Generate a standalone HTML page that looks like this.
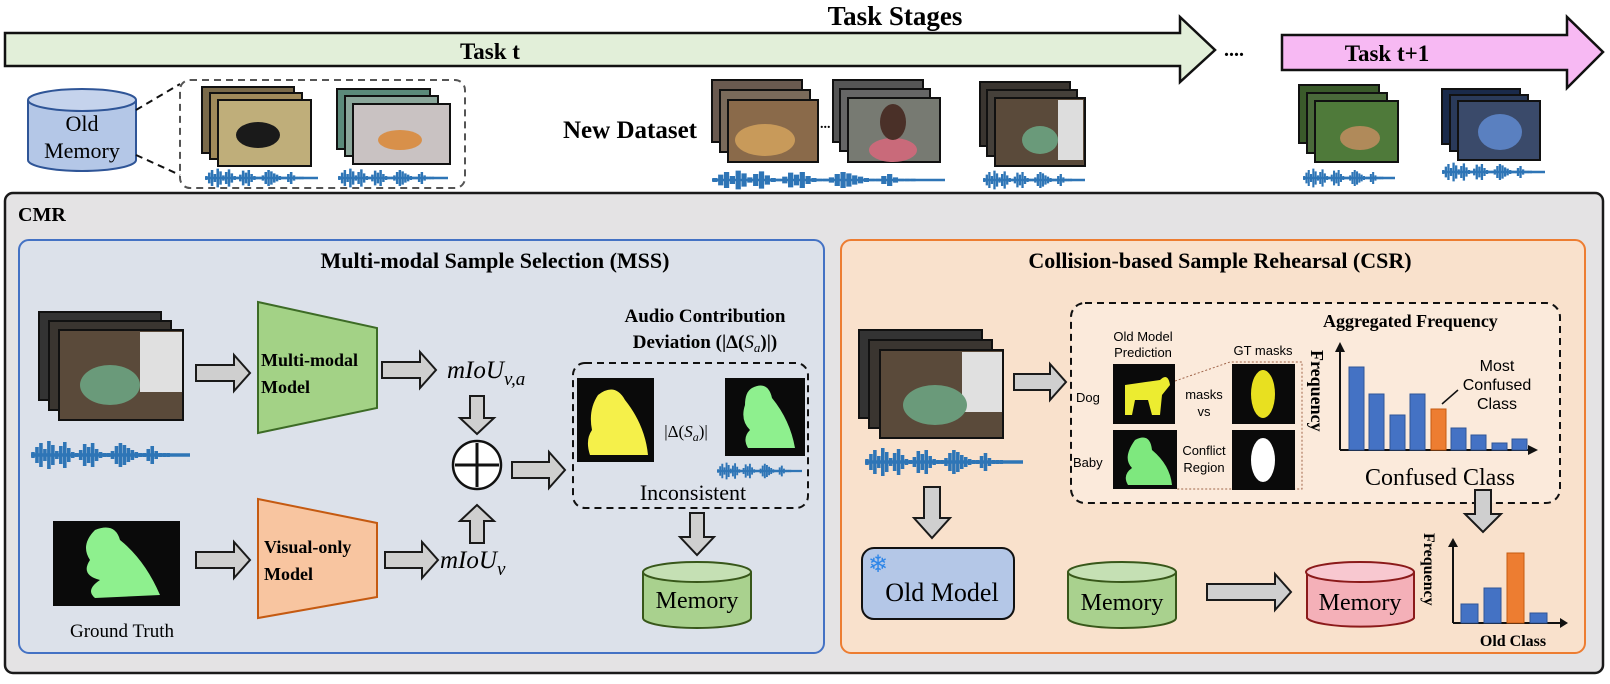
<!DOCTYPE html>
<html><head><meta charset="utf-8"><style>
html,body{margin:0;padding:0;background:#fff}
svg{display:block}
.s{font-family:"Liberation Serif",serif}
.a{font-family:"Liberation Sans",sans-serif}
.ar{fill:#cfcfcf;stroke:#1a1a1a;stroke-width:2}
</style></head><body>
<svg width="1610" height="684" viewBox="0 0 1610 684" xmlns="http://www.w3.org/2000/svg">
<defs>
<symbol id="wv" viewBox="0 0 160 30" preserveAspectRatio="none">
<path d="M0 15H160 M2 12V18 M6 7V23 M10 3V27 M14 9V21 M18 1V29 M22 5V25 M26 11V19 M30 6V24 M34 2V28 M38 8V22 M42 12V18 M46 13V17 M50 10V20 M54 4V26 M58 7V23 M62 3V27 M66 9V21 M70 12V18 M74 13V17 M78 13V17 M82 11V19 M86 6V24 M90 3V27 M94 5V25 M98 8V22 M102 10V20 M106 12V18 M110 13V17 M114 13V17 M118 9V21 M122 6V24 M126 11V19 M130 13V17 M134 13V17 M138 13V17 M142 14V16 M146 14V16 M150 14V16" stroke="#2e75b6" stroke-width="3.6" fill="none"/>
</symbol>
</defs>

<!-- Top -->
<text x="895" y="25" class="s" font-size="27" font-weight="bold" text-anchor="middle">Task Stages</text>
<polygon points="5,33 1180,33 1180,17 1215,50 1180,82 1180,66 5,66" fill="#e2efd9" stroke="#111" stroke-width="2.5"/>
<text x="490" y="59" class="s" font-size="23" font-weight="bold" text-anchor="middle">Task t</text>
<text x="1224" y="56" class="s" font-size="20" font-weight="bold">....</text>
<polygon points="1282,35 1567,35 1567,17 1603,52 1567,88 1567,70 1282,70" fill="#f7b9f3" stroke="#111" stroke-width="2.5"/>
<text x="1387" y="61" class="s" font-size="23" font-weight="bold" text-anchor="middle">Task t+1</text>

<!-- Old memory -->
<path d="M28,100 V160 A54,11 0 0 0 136,160 V100" fill="#b4c7e7" stroke="#2f5597" stroke-width="2"/>
<ellipse cx="82" cy="100" rx="54" ry="11" fill="#c5d3ec" stroke="#2f5597" stroke-width="2"/>
<text x="82" y="131" class="s" font-size="22" text-anchor="middle">Old</text>
<text x="82" y="158" class="s" font-size="22" text-anchor="middle">Memory</text>
<path d="M136,110 L180,84 M136,155 L180,175" stroke="#111" stroke-width="2" stroke-dasharray="7,5"/>
<rect x="180" y="80" width="285" height="108" rx="10" fill="none" stroke="#555" stroke-width="2" stroke-dasharray="7,5"/>

<rect x="202" y="87" width="92" height="66" fill="#7a6a4a" stroke="#111" stroke-width="2"/>
<rect x="210" y="93" width="92" height="66" fill="#a08a5a" stroke="#111" stroke-width="2"/>
<rect x="218" y="100" width="93" height="66" fill="#bfae7a" stroke="#111" stroke-width="2"/>
<ellipse cx="258" cy="135" rx="22" ry="13" fill="#1a1a1a"/>
<use href="#wv" x="205" y="168" width="113" height="20"/>
<rect x="337" y="89" width="93" height="60" fill="#5b8a7a" stroke="#111" stroke-width="2"/>
<rect x="345" y="96" width="93" height="60" fill="#8aa69a" stroke="#111" stroke-width="2"/>
<rect x="353" y="104" width="97" height="60" fill="#c9c2c2" stroke="#111" stroke-width="2"/>
<ellipse cx="400" cy="140" rx="22" ry="10" fill="#d8904a"/>
<use href="#wv" x="338" y="168" width="110" height="20"/>

<text x="563" y="138" class="s" font-size="25" font-weight="bold">New Dataset</text>
<rect x="712" y="80" width="90" height="62" fill="#6a5a50" stroke="#111" stroke-width="2"/>
<rect x="720" y="90" width="90" height="62" fill="#7a6a5a" stroke="#111" stroke-width="2"/>
<rect x="728" y="100" width="90" height="62" fill="#8a6a4a" stroke="#111" stroke-width="2"/>
<ellipse cx="765" cy="140" rx="30" ry="16" fill="#c89a5a"/>
<text x="820" y="128" font-size="14" font-weight="bold" class="s">...</text>
<rect x="833" y="80" width="90" height="62" fill="#555" stroke="#111" stroke-width="2"/>
<rect x="840" y="89" width="90" height="62" fill="#666" stroke="#111" stroke-width="2"/>
<rect x="848" y="98" width="92" height="64" fill="#777a72" stroke="#111" stroke-width="2"/>
<ellipse cx="893" cy="150" rx="24" ry="12" fill="#c96a7a"/>
<ellipse cx="893" cy="122" rx="13" ry="18" fill="#4a3028"/>
<use href="#wv" x="712" y="170" width="233" height="20"/>
<rect x="980" y="82" width="90" height="64" fill="#3a3530" stroke="#111" stroke-width="2"/>
<rect x="987" y="90" width="90" height="66" fill="#45403a" stroke="#111" stroke-width="2"/>
<rect x="995" y="98" width="90" height="68" fill="#5a4a3a" stroke="#111" stroke-width="2"/>
<rect x="1058" y="100" width="25" height="60" fill="#ddd"/>
<ellipse cx="1040" cy="140" rx="18" ry="14" fill="#6a9a7a"/>
<use href="#wv" x="983" y="170" width="102" height="20"/>

<rect x="1299" y="85" width="80" height="58" fill="#3a5a2a" stroke="#111" stroke-width="2"/>
<rect x="1307" y="93" width="80" height="60" fill="#4a6a3a" stroke="#111" stroke-width="2"/>
<rect x="1315" y="101" width="83" height="61" fill="#4f7a3a" stroke="#111" stroke-width="2"/>
<ellipse cx="1360" cy="138" rx="20" ry="12" fill="#b08a5a"/>
<use href="#wv" x="1303" y="168" width="92" height="20"/>
<rect x="1442" y="89" width="78" height="55" fill="#1a2a4a" stroke="#111" stroke-width="2"/>
<rect x="1450" y="95" width="78" height="56" fill="#2a3a5a" stroke="#111" stroke-width="2"/>
<rect x="1458" y="101" width="82" height="59" fill="#3a4a6a" stroke="#111" stroke-width="2"/>
<ellipse cx="1500" cy="132" rx="22" ry="18" fill="#5a80c0"/>
<use href="#wv" x="1442" y="162" width="103" height="20"/>

<!-- CMR -->
<rect x="5" y="193" width="1598" height="480" rx="8" fill="#e4e3e4" stroke="#1a1a1a" stroke-width="2.5"/>
<text x="18" y="221" class="s" font-size="20" font-weight="bold">CMR</text>

<!-- MSS -->
<rect x="19" y="240" width="805" height="413" rx="10" fill="#dce1ea" stroke="#4472c4" stroke-width="2"/>
<text x="495" y="268" class="s" font-size="22" font-weight="bold" text-anchor="middle">Multi-modal Sample Selection (MSS)</text>
<rect x="39" y="312" width="122" height="88" fill="#333" stroke="#111" stroke-width="2"/>
<rect x="49" y="321" width="122" height="89" fill="#3a3530" stroke="#111" stroke-width="2"/>
<rect x="59" y="330" width="124" height="90" fill="#5a4a3a" stroke="#111" stroke-width="2"/>
<rect x="140" y="332" width="42" height="60" fill="#e0e0e0"/>
<ellipse cx="110" cy="385" rx="30" ry="20" fill="#6a9a7a"/>
<use href="#wv" x="31" y="440" width="159" height="30"/>
<polygon class="ar" points="196,365 234,365 234,355 250,373 234,391 234,381 196,381"/>
<polygon points="258,302 377,328 377,408 258,433" fill="#a3d286" stroke="#3d6b26" stroke-width="2"/>
<text x="261" y="366" class="s" font-size="18" font-weight="bold">Multi-modal</text>
<text x="261" y="393" class="s" font-size="18" font-weight="bold">Model</text>
<polygon class="ar" points="382,362 420,362 420,352 436,370 420,388 420,378 382,378"/>
<text x="447" y="378" class="s" font-size="25" font-style="italic">mIoU<tspan font-size="19" dy="7">v,a</tspan></text>
<polygon class="ar" points="470,396 484,396 484,418 494,418 477,434 460,418 470,418"/>
<circle cx="477" cy="465" r="24" fill="#fff" stroke="#111" stroke-width="2.5"/>
<path d="M455,465 H499 M477,443 V487" stroke="#111" stroke-width="3"/>
<polygon class="ar" points="470,543 484,543 484,521 494,521 477,505 460,521 470,521"/>
<polygon class="ar" points="512,462 549,462 549,452 565,470 549,488 549,478 512,478"/>
<text x="705" y="322" class="s" font-size="19" font-weight="bold" text-anchor="middle">Audio Contribution</text>
<text x="705" y="348" class="s" font-size="19" font-weight="bold" text-anchor="middle">Deviation (|Δ(<tspan font-style="italic" font-weight="normal">S</tspan><tspan font-size="13" dy="4" font-style="italic" font-weight="normal">a</tspan><tspan dy="-4">)|)</tspan></text>
<rect x="573" y="363" width="235" height="145" rx="12" fill="none" stroke="#111" stroke-width="2" stroke-dasharray="7,5"/>
<rect x="577" y="378" width="77" height="84" fill="#0a0a0a"/>
<path d="M598,395 Q615,382 625,400 Q645,425 648,455 L590,455 Q585,440 592,430 Q588,410 598,395Z" fill="#f5f04a"/>
<text x="686" y="437" class="s" font-size="17" text-anchor="middle">|Δ(<tspan font-style="italic">S</tspan><tspan font-size="12" dy="4" font-style="italic">a</tspan><tspan dy="-4">)|</tspan></text>
<rect x="725" y="378" width="80" height="78" fill="#0a0a0a"/>
<path d="M752,388 Q768,380 772,398 Q790,420 795,448 L748,448 Q742,438 750,430 Q740,420 745,405 Q745,392 752,388Z" fill="#8ef08e"/>
<use href="#wv" x="717" y="462" width="85" height="18"/>
<text x="693" y="500" class="s" font-size="22" text-anchor="middle">Inconsistent</text>
<polygon class="ar" points="690,513 704,513 704,537 714,537 697,555 680,537 690,537"/>
<path d="M643,572 V618 A54,10 0 0 0 751,618 V572" fill="#a9d18e" stroke="#38571a" stroke-width="2"/>
<ellipse cx="697" cy="572" rx="54" ry="10" fill="#c5e0b4" stroke="#38571a" stroke-width="2"/>
<text x="697" y="608" class="s" font-size="24" text-anchor="middle">Memory</text>
<rect x="53" y="521" width="127" height="85" fill="#0a0a0a"/>
<path d="M95,530 Q115,522 120,540 Q145,560 160,595 L95,598 Q85,590 100,580 Q80,575 90,560 Q80,545 95,530Z" fill="#8ef08e"/>
<text x="122" y="637" class="s" font-size="19" text-anchor="middle">Ground Truth</text>
<polygon class="ar" points="196,552 234,552 234,542 250,560 234,578 234,568 196,568"/>
<polygon points="258,499 377,523 377,597 258,618" fill="#f8c5a0" stroke="#c55a11" stroke-width="2"/>
<text x="264" y="553" class="s" font-size="18" font-weight="bold">Visual-only</text>
<text x="264" y="580" class="s" font-size="18" font-weight="bold">Model</text>
<polygon class="ar" points="385,552 422,552 422,542 438,560 422,578 422,568 385,568"/>
<text x="440" y="568" class="s" font-size="25" font-style="italic">mIoU<tspan font-size="19" dy="7">v</tspan></text>

<!-- CSR -->
<rect x="841" y="240" width="744" height="413" rx="10" fill="#f9e1cc" stroke="#ed7d31" stroke-width="2"/>
<text x="1220" y="268" class="s" font-size="22" font-weight="bold" text-anchor="middle">Collision-based Sample Rehearsal (CSR)</text>
<rect x="859" y="330" width="123" height="88" fill="#333" stroke="#111" stroke-width="2"/>
<rect x="869" y="340" width="123" height="88" fill="#3a3530" stroke="#111" stroke-width="2"/>
<rect x="880" y="350" width="123" height="88" fill="#5a4a3a" stroke="#111" stroke-width="2"/>
<rect x="962" y="352" width="40" height="60" fill="#e0e0e0"/>
<ellipse cx="935" cy="405" rx="32" ry="20" fill="#6a9a7a"/>
<use href="#wv" x="865" y="447" width="158" height="30"/>
<polygon class="ar" points="1014,374 1050,374 1050,364 1066,382 1050,400 1050,390 1014,390"/>
<rect x="1071" y="303" width="489" height="200" rx="14" fill="#fbeadb" stroke="#111" stroke-width="2" stroke-dasharray="7,5"/>
<text x="1143" y="341" class="a" font-size="13" text-anchor="middle">Old Model</text>
<text x="1143" y="357" class="a" font-size="13" text-anchor="middle">Prediction</text>
<text x="1263" y="355" class="a" font-size="13" text-anchor="middle">GT masks</text>
<text x="1076" y="402" class="a" font-size="13">Dog</text>
<text x="1073" y="467" class="a" font-size="13">Baby</text>
<rect x="1113" y="364" width="62" height="60" fill="#0a0a0a"/>
<path d="M1125,385 L1160,380 Q1168,372 1170,385 L1162,395 L1160,415 L1152,415 L1148,400 L1135,400 L1132,415 L1125,415 Z" fill="#ecec30"/>
<rect x="1113" y="430" width="64" height="59" fill="#0a0a0a"/>
<path d="M1135,440 Q1150,432 1152,450 Q1170,465 1172,485 L1128,485 Q1122,475 1132,468 Q1122,458 1135,440Z" fill="#7ee87e"/>
<text x="1204" y="399" class="a" font-size="13" text-anchor="middle">masks</text>
<text x="1204" y="416" class="a" font-size="13" text-anchor="middle">vs</text>
<text x="1204" y="455" class="a" font-size="13" text-anchor="middle">Conflict</text>
<text x="1204" y="472" class="a" font-size="13" text-anchor="middle">Region</text>
<path d="M1175,381 L1230,362 L1302,362 L1302,489 L1175,489" fill="none" stroke="#a0654a" stroke-width="1" stroke-dasharray="2,2"/>
<rect x="1232" y="364" width="63" height="60" fill="#0a0a0a"/>
<ellipse cx="1263" cy="394" rx="12" ry="24" fill="#e8e020"/>
<rect x="1232" y="430" width="63" height="60" fill="#0a0a0a"/>
<ellipse cx="1263" cy="460" rx="12" ry="22" fill="#fff"/>
<text x="1323" y="327" class="s" font-size="18" font-weight="bold">Aggregated Frequency</text>
<text transform="translate(1311,350) rotate(90)" class="s" font-size="18" font-weight="bold">Frequency</text>
<path d="M1340,450 V350 M1340,450 H1530" stroke="#111" stroke-width="2" fill="none"/>
<polygon points="1335,352 1340,342 1345,352" fill="#111"/>
<polygon points="1528,445 1538,450 1528,455" fill="#111"/>
<g fill="#4472c4" stroke="#2f5597" stroke-width="1">
<rect x="1349" y="367" width="15" height="83"/><rect x="1369" y="394" width="15" height="56"/><rect x="1390" y="415" width="15" height="35"/><rect x="1410" y="394" width="15" height="56"/>
<rect x="1451" y="428" width="15" height="22"/><rect x="1471" y="435" width="15" height="15"/><rect x="1492" y="443" width="15" height="7"/><rect x="1512" y="439" width="15" height="11"/>
</g>
<rect x="1431" y="409" width="15" height="41" fill="#ed7d31" stroke="#c55a11"/>
<path d="M1458,390 L1442,404" stroke="#111" stroke-width="1.5"/>
<text x="1497" y="371" class="a" font-size="16" text-anchor="middle">Most</text>
<text x="1497" y="390" class="a" font-size="16" text-anchor="middle">Confused</text>
<text x="1497" y="409" class="a" font-size="16" text-anchor="middle">Class</text>
<text x="1440" y="485" class="s" font-size="24" text-anchor="middle">Confused Class</text>

<polygon class="ar" points="924,487 940,487 940,518 950,518 932,538 914,518 924,518"/>
<rect x="862" y="548" width="152" height="71" rx="12" fill="#b4c7e7" stroke="#111" stroke-width="2"/>
<text x="878" y="572" font-size="24" fill="#2e86e8" text-anchor="middle" class="a">❄</text>
<text x="942" y="601" class="s" font-size="26" text-anchor="middle">Old Model</text>
<path d="M1068,572 V618 A54,10 0 0 0 1176,618 V572" fill="#a9d18e" stroke="#38571a" stroke-width="2"/>
<ellipse cx="1122" cy="572" rx="54" ry="10" fill="#c5e0b4" stroke="#38571a" stroke-width="2"/>
<text x="1122" y="610" class="s" font-size="24" text-anchor="middle">Memory</text>
<polygon class="ar" points="1207,584 1275,584 1275,574 1291,592 1275,610 1275,600 1207,600"/>
<path d="M1307,572 V618 A54,10 0 0 0 1414,618 V572" fill="#f4b0b8" stroke="#8b1a1a" stroke-width="2"/>
<ellipse cx="1360" cy="572" rx="54" ry="10" fill="#f8c8d0" stroke="#8b1a1a" stroke-width="2"/>
<text x="1360" y="610" class="s" font-size="24" text-anchor="middle">Memory</text>
<polygon class="ar" points="1475,490 1491,490 1491,514 1501,514 1483,532 1465,514 1475,514"/>
<text transform="translate(1424,533) rotate(90)" class="s" font-size="16" font-weight="bold">Frequency</text>
<path d="M1453,623 V545 M1453,623 H1562" stroke="#111" stroke-width="2" fill="none"/>
<polygon points="1448,547 1453,538 1458,547" fill="#111"/>
<polygon points="1560,618 1568,623 1560,628" fill="#111"/>
<rect x="1461" y="604" width="17" height="19" fill="#4472c4" stroke="#2f5597"/>
<rect x="1484" y="588" width="17" height="35" fill="#4472c4" stroke="#2f5597"/>
<rect x="1507" y="553" width="17" height="70" fill="#ed7d31" stroke="#c55a11"/>
<rect x="1530" y="613" width="17" height="10" fill="#4472c4" stroke="#2f5597"/>
<text x="1513" y="646" class="s" font-size="16" font-weight="bold" text-anchor="middle">Old Class</text>
</svg>
</body></html>
